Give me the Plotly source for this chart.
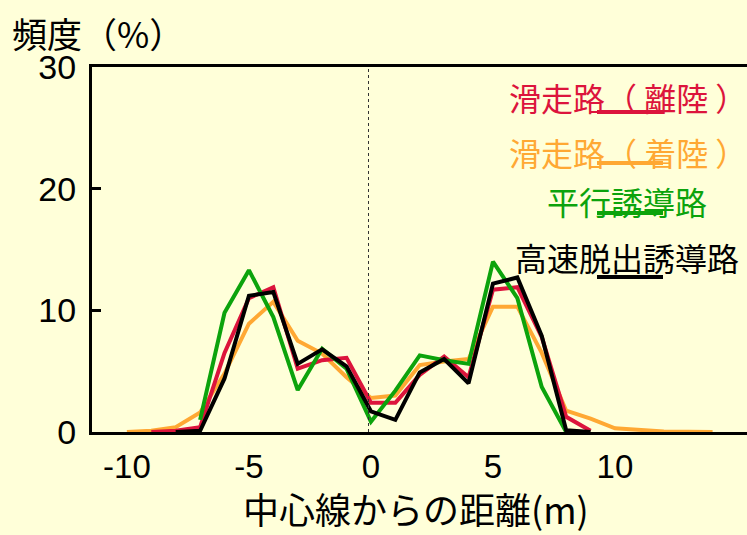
import plotly.graph_objects as go

# distance from centre line (m)
x_takeoff = [-9, -8, -7, -6, -5, -4, -3, -2, -1, 0, 1, 2, 3, 4, 5, 6, 7, 8, 9]
y_takeoff = [0, 0.1, 0.4, 6.5, 11.0, 11.9, 5.2, 5.9, 6.1, 2.4, 2.4, 4.7, 6.2, 4.5, 11.7, 11.9, 7.8, 1.25, 0.1]

x_landing = [-10, -9, -8, -7, -6, -5, -4, -3, -2, -1, 0, 1, 2, 3, 4, 5, 6, 7, 8, 9, 10, 11, 12, 13, 14]
y_landing = [0, 0.1, 0.4, 1.6, 4.8, 8.9, 10.7, 7.5, 6.45, 4.5, 2.8, 3.0, 5.5, 5.8, 6.0, 10.3, 10.3, 6.5, 1.75, 1.1, 0.3, 0.15, 0.05, 0.02, 0.0]

x_parallel = [-7, -6, -5, -4, -3, -2, -1, 0, 1, 2, 3, 4, 5, 6, 7, 8]
y_parallel = [1.0, 9.8, 13.3, 9.45, 3.45, 6.85, 5.2, 0.85, 3.4, 6.3, 5.9, 5.6, 14.0, 11.0, 3.7, 0]

x_rapid = [-8, -7, -6, -5, -4, -3, -2, -1, 0, 1, 2, 3, 4, 5, 6, 7, 8, 9]
y_rapid = [0, 0.1, 4.4, 11.2, 11.5, 5.6, 6.8, 5.4, 1.7, 1.0, 4.9, 6.0, 4.0, 12.2, 12.7, 7.9, 0.15, 0]

labels = ["滑走路（ 離陸 ）", "滑走路（ 着陸 ）", "平行誘導路", "高速脱出誘導路"]
colors = ["#DC143C", "#FFA833", "#0CA30C", "#000000"]

x_ticks = [-10, -5, 0, 5, 10]
y_ticks = [0, 10, 20, 30]

BG = "#FFFFD9"
JP = "Noto Sans CJK JP"
NUM = "Liberation Sans"

fig = go.Figure()
series = [(x_landing, y_landing, 1), (x_takeoff, y_takeoff, 0),
          (x_parallel, y_parallel, 2), (x_rapid, y_rapid, 3)]
for xs, ys, i in series:
    fig.add_trace(go.Scatter(x=xs, y=ys, mode="lines", name=labels[i],
                             line=dict(color=colors[i], width=4),
                             showlegend=False))

fig.update_layout(
    width=747, height=535,
    margin=dict(l=92, r=0, t=67, b=103),
    paper_bgcolor=BG, plot_bgcolor=BG,
    font=dict(family=NUM, color="black"),
    xaxis=dict(range=[-11.43, 15.41], tickvals=x_ticks, ticktext=[str(v) for v in x_ticks],
               showgrid=False, zeroline=False, showline=True, linecolor="black",
               linewidth=3, mirror=True, ticks="", tickfont=dict(size=33, family=NUM),
               ticklabelstandoff=3),
    yaxis=dict(range=[0, 30], tickvals=y_ticks, showgrid=False, zeroline=False,
               showline=True, linecolor="black", linewidth=3, ticks="inside",
               ticklen=9, tickwidth=3, tickcolor="black",
               tickfont=dict(size=34, family=NUM), ticklabelstandoff=6),
)

# dotted centre line
fig.add_shape(type="line", xref="x", yref="paper", x0=-0.1, x1=-0.1, y0=0, y1=1,
              line=dict(color="#333333", width=1, dash="dot"))

def px(xp):
    return (xp - 92) / 655.0

def py(yp):
    return (432 - yp) / 365.0

legend_pos = [(628, 97, 112), (628, 152, 163), (627, 201, 213), (627, 257, 277)]
for i, (cx, cy, ly) in enumerate(legend_pos):
    fig.add_annotation(text=labels[i], xref="paper", yref="paper", x=px(cx), y=py(cy),
                       showarrow=False, xanchor="center", yanchor="middle",
                       font=dict(family=JP, size=32, color=colors[i]))
    fig.add_shape(type="line", xref="paper", yref="paper", x0=px(597), x1=px(663),
                  y0=py(ly), y1=py(ly), line=dict(color=colors[i], width=4))

fig.add_annotation(text="頻度（%）", xref="paper", yref="paper", x=px(10), y=py(32),
                   showarrow=False, xanchor="left", yanchor="middle",
                   font=dict(family=JP, size=35, color="black"))
fig.add_annotation(text="中心線からの距離(m)", xref="paper", yref="paper", x=px(416), y=py(508),
                   showarrow=False, xanchor="center", yanchor="middle",
                   font=dict(family=JP, size=36, color="black"))

fig.write_html("out.html", config={"displayModeBar": False},
               post_script="document.body.style.margin='0';document.body.style.background='#FFFFD9';")
